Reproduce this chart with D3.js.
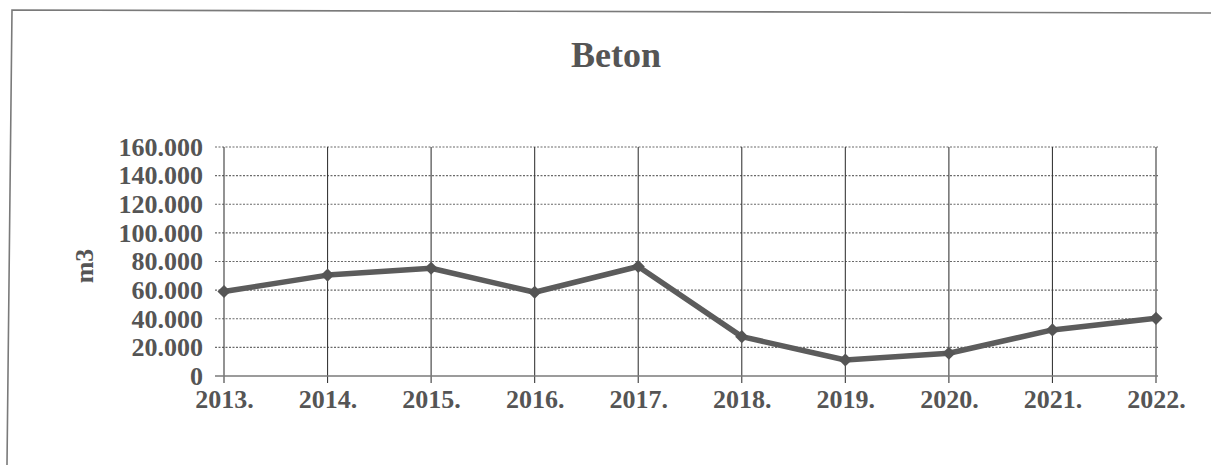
<!DOCTYPE html>
<html>
<head>
<meta charset="utf-8">
<script src="https://cdn.jsdelivr.net/npm/d3@7"></script>
<style>
  html, body { margin: 0; padding: 0; background: #fff; }
  svg { display: block; }
  text { font-family: "Liberation Serif", "Times New Roman", serif; font-weight: bold; fill: #555; }
</style>
</head>
<body>
<svg id="chart" width="1211" height="465"></svg>
<script>
// Annual concrete volume (m3)
const years = ["2013.", "2014.", "2015.", "2016.", "2017.", "2018.", "2019.", "2020.", "2021.", "2022."];
const volumes = [59000, 70500, 75300, 58500, 76500, 27500, 11200, 15900, 32200, 40300];
const yTicks = [0, 20000, 40000, 60000, 80000, 100000, 120000, 140000, 160000];
const chartTitle = "Beton";
const yAxisTitle = "m3";

const svg = d3.select("#chart");

// thousands separated by a dot: 160.000
const fmt = d3.formatLocale({ decimal: ",", thousands: ".", grouping: [3], currency: ["", ""] }).format(",d");

const x = d3.scalePoint().domain(years).range([224, 1156]);
const y = d3.scaleLinear().domain([0, 160000]).range([376, 147]);

// outer frame (left and top edges)
svg.append("path")
  .attr("d", "M7,465 L12,10 L1211,13")
  .attr("fill", "none")
  .attr("stroke", "#7a7a7a")
  .attr("stroke-width", 1.6);

// title
svg.append("text")
  .attr("x", 616).attr("y", 67)
  .attr("text-anchor", "middle")
  .style("font-size", "36px")
  .text(chartTitle);

// horizontal dotted gridlines
svg.append("g").selectAll("line")
  .data(yTicks.filter(d => d > 0))
  .join("line")
  .attr("x1", 215).attr("x2", 1158)
  .attr("y1", d => y(d)).attr("y2", d => y(d))
  .attr("stroke", "#6a6a6a")
  .attr("stroke-width", 1.2)
  .attr("stroke-dasharray", "2,1.5");

// vertical category lines, running past the baseline as ticks
svg.append("g").selectAll("line")
  .data(years)
  .join("line")
  .attr("x1", d => x(d)).attr("x2", d => x(d))
  .attr("y1", y(160000)).attr("y2", y(0) + 7)
  .attr("stroke", "#3a3a3a")
  .attr("stroke-width", 1.1);

// baseline
svg.append("line")
  .attr("x1", 215).attr("x2", 1158)
  .attr("y1", y(0)).attr("y2", y(0))
  .attr("stroke", "#7a7a7a")
  .attr("stroke-width", 1.4);

// y tick labels
const yAxis = d3.axisLeft(y).tickValues(yTicks).tickFormat(fmt).tickSize(0).tickPadding(0);
const gy = svg.append("g").attr("transform", "translate(203,0)").call(yAxis);
gy.select(".domain").remove();
gy.selectAll("text")
  .attr("fill", "#555")
  .style("font-family", "'Liberation Serif', serif")
  .style("font-weight", "bold")
  .style("font-size", "26px");

// x tick labels
const xAxis = d3.axisBottom(x).tickSize(0).tickPadding(0);
const gx = svg.append("g").attr("transform", "translate(0,390)").call(xAxis);
gx.select(".domain").remove();
gx.selectAll("text")
  .attr("dy", "0.7em")
  .attr("fill", "#555")
  .style("font-family", "'Liberation Serif', serif")
  .style("font-weight", "bold")
  .style("font-size", "26px");

// y axis title
svg.append("text")
  .attr("transform", "translate(93,266) rotate(-90)")
  .attr("text-anchor", "middle")
  .style("font-size", "26px")
  .text(yAxisTitle);

// series line
const line = d3.line().x((d, i) => x(years[i])).y(d => y(d));
svg.append("path")
  .datum(volumes)
  .attr("d", line)
  .attr("fill", "none")
  .attr("stroke", "#5c5c5c")
  .attr("stroke-width", 5.5)
  .attr("stroke-linejoin", "round");

// diamond markers
svg.append("g").selectAll("path")
  .data(volumes)
  .join("path")
  .attr("transform", (d, i) => `translate(${x(years[i])},${y(d)})`)
  .attr("d", d3.symbol(d3.symbolDiamond2, 110)())
  .attr("fill", "#555");
</script>
</body>
</html>
